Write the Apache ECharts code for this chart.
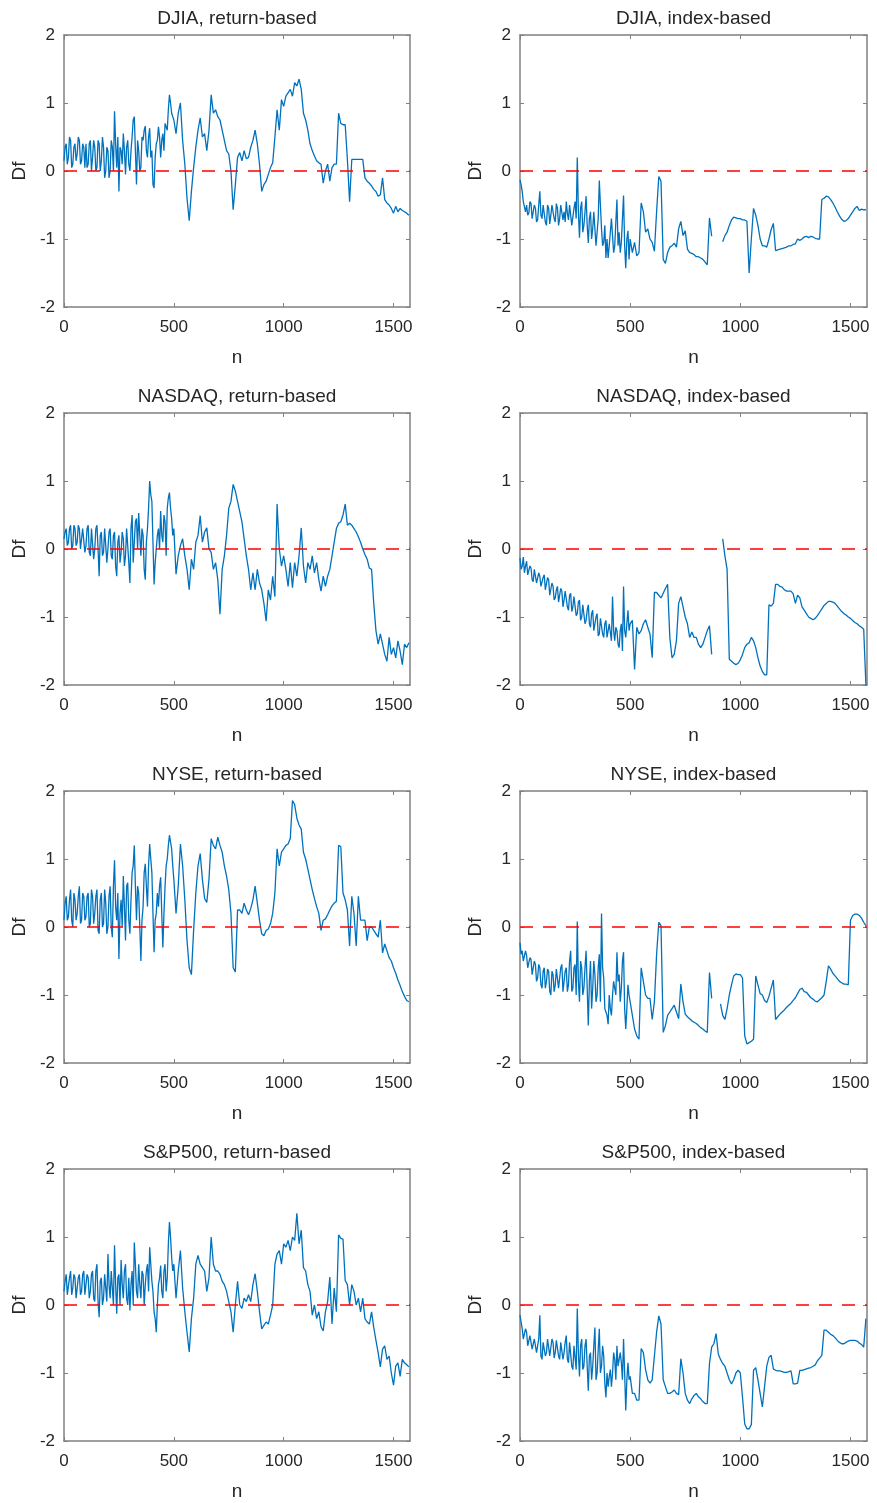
<!DOCTYPE html>
<html>
<head>
<meta charset="utf-8">
<script src="https://cdn.jsdelivr.net/npm/echarts@6/dist/echarts.min.js"></script>
<style>html,body{margin:0;padding:0;background:#fff}#c{width:877px;height:1503px}</style>
</head>
<body>
<div id="c"></div>
<script>
// coarse sample positions n (every 10)
const nSamples = [0,10,20,30,40,50,60,70,80,90,100,110,120,130,140,150,160,170,180,190,200,210,220,230,240,250,260,270,280,290,300,310,320,330,340,350,360,370,380,390,400,410,420,430,440,450,460,470,480,490,500,510,520,530,540,550,560,570,580,590,600,610,620,630,640,650,660,670,680,690,700,710,720,730,740,750,760,770,780,790,800,810,820,830,840,850,860,870,880,890,900,910,920,930,940,950,960,970,980,990,1000,1010,1020,1030,1040,1050,1060,1070,1080,1090,1100,1110,1120,1130,1140,1150,1160,1170,1180,1190,1200,1210,1220,1230,1240,1250,1260,1270,1280,1290,1300,1310,1320,1330,1340,1350,1360,1370,1380,1390,1400,1410,1420,1430,1440,1450,1460,1470,1480,1490,1500,1510,1520,1530,1540,1550,1560,1570];
// extra positions in the noisy early part
const nFine = [5,15,25,35,45,55,65,75,85,95,105,115,125,135,145,155,165,175,185,195,205,215,225,235,245,255,265,275,285,295,305,315,325,335,345,355,365,375,385,395,405,415,425,435,445,455,465,475,485,495];
const xTicks = [0, 500, 1000, 1500];
const titles = ['DJIA, return-based','DJIA, index-based','NASDAQ, return-based','NASDAQ, index-based','NYSE, return-based','NYSE, index-based','S&P500, return-based','S&P500, index-based'];

const djiaReturn = [0.15,0.4,0.2,0.45,0.1,0.4,0.25,0.45,0.15,0.35, 0.4,0.1,0.45,0.2,0.35,0.05,0.4,0.15,0.35,0.0, 0.3,0.0,0.35,0.88,0.05,-0.3,0.3,0.55,-0.05,0.45, 0.0,0.5,0.8,-0.2,0.3,0.05,0.45,0.66,0.2,0.63, 0.3,-0.25,0.4,0.65,0.2,0.55,0.7,0.6,1.12,0.85, 0.75,0.55,0.85,1.0,0.45,0.1,-0.4,-0.73,-0.3,0.05, 0.35,0.6,0.78,0.5,0.55,0.3,0.6,1.12,0.85,0.9, 0.8,0.75,0.6,0.45,0.3,0.25,0.0,-0.57,-0.2,0.2, 0.27,0.15,0.3,0.18,0.2,0.35,0.45,0.6,0.4,0.1, -0.3,-0.2,-0.15,-0.05,0.05,0.12,0.5,0.9,0.6,1.05, 0.95,1.1,1.15,1.2,1.1,1.3,1.25,1.35,1.2,0.85, 0.75,0.6,0.4,0.3,0.22,0.15,0.12,0.1,-0.18,0.0, 0.1,-0.15,0.05,0.1,0.1,0.85,0.7,0.68,0.68,0.17, -0.45,0.17,0.17,0.17,0.17,0.17,0.17,-0.1,-0.15,-0.18, -0.22,-0.27,-0.3,-0.37,-0.35,-0.1,-0.42,-0.47,-0.5,-0.55, -0.62,-0.52,-0.6,-0.55,-0.58,-0.6,-0.62,-0.65];
const djiaReturnFine = [0.35,0.1,0.5,0.05,0.35,0.15,0.5,0.1,0.4,0.05, 0.05,0.4,0.0,0.45,0.0,0.45,0.0,0.5,-0.1,0.35, -0.1,0.45,0.0,0.4,0.5,0.35,0.1,0.3,0.35,0.1, 0.3,0.75,0.3,0.45,0.0,0.5,0.6,0.3,0.5,0.2, -0.2,0.2,0.45,0.5,0.45,0.3,0.65,0.9,1.0,0.8];
const djiaIndex = [-0.13,-0.3,-0.45,-0.5,-0.62,-0.48,-0.68,-0.55,-0.72,-0.3, -0.7,-0.5,-0.8,-0.55,-0.65,-0.5,-0.75,-0.55,-0.7,-0.5, -0.6,-0.45,-0.72,-0.5,-0.78,-0.45,0.2,-0.98,-0.45,-0.8, -0.37,-1.06,-0.6,-0.85,-0.62,-0.9,-0.14,-0.85,-1.05,-1.28, -1.28,-0.9,-0.95,-1.1,-0.42,-0.9,-1.05,-0.36,-1.43,-0.88, -1.0,-1.2,-1.05,-1.25,-1.2,-0.47,-0.6,-0.9,-0.85,-1.0, -1.05,-1.18,-0.6,-0.08,-0.15,-1.3,-1.36,-1.2,-1.12,-1.1, -1.06,-1.12,-0.85,-0.74,-0.95,-0.88,-1.15,-1.2,-1.21,-1.23, -1.26,-1.26,-1.28,-1.3,-1.34,-1.38,-0.69,-0.96,null,null, null,null,-1.04,-0.95,-0.9,-0.8,-0.72,-0.68,-0.69,-0.7, -0.7,-0.72,-0.72,-0.74,-1.5,-1.0,-0.55,-0.65,-0.8,-1.0, -1.1,-1.1,-1.12,-1.0,-0.86,-0.77,-1.17,-1.16,-1.15,-1.14, -1.13,-1.12,-1.1,-1.1,-1.08,-1.07,-1.0,-1.02,-1.0,-0.97, -0.96,-0.98,-0.96,-0.97,-0.99,-1.0,-1.0,-0.42,-0.4,-0.37, -0.38,-0.42,-0.47,-0.53,-0.6,-0.66,-0.71,-0.74,-0.73,-0.7, -0.65,-0.6,-0.55,-0.52,-0.58,-0.56,-0.57,-0.57];
const djiaIndexFine = [-0.2,-0.45,-0.6,-0.65,-0.45,-0.7,-0.5,-0.75,-0.5,-0.65, -0.5,-0.75,-0.5,-0.78,-0.5,-0.7,-0.48,-0.8,-0.5,-0.72, -0.75,-0.62,-0.5,-0.8,-0.55,-0.7,-0.6,-0.55,-0.9,-0.6, -0.8,-0.7,-1.0,-0.6,-1.1,-0.7,-0.5,-1.1,-0.8,-1.0, -1.1,-0.7,-1.2,-0.75,-1.1,-1.2,-0.7,-1.1,-1.0,-1.3];
const nasdaqReturn = [0.15,0.3,0.1,0.35,0.05,0.3,0.1,0.3,0.0,0.3, 0.05,0.35,-0.1,0.3,0.0,0.35,-0.4,0.25,-0.05,0.3, 0.0,0.3,-0.15,0.25,-0.4,0.2,-0.05,0.15,-0.1,0.05, -0.5,0.5,0.1,0.45,0.53,-0.1,0.2,-0.45,0.3,1.0, 0.7,-0.52,0.0,0.3,0.56,0.1,0.4,0.6,0.83,0.45, 0.3,-0.37,-0.1,0.05,0.15,-0.1,-0.3,-0.6,-0.15,-0.3, 0.1,0.2,0.49,0.1,0.25,0.31,0.0,-0.05,-0.3,-0.2, -0.45,-0.96,-0.3,-0.1,0.2,0.6,0.7,0.95,0.85,0.7, 0.55,0.4,0.15,-0.1,-0.3,-0.6,-0.35,-0.6,-0.3,-0.5, -0.6,-0.8,-1.06,-0.6,-0.75,-0.4,-0.7,0.66,0.0,-0.25, -0.1,-0.3,-0.55,-0.2,-0.57,-0.2,-0.4,-0.1,0.31,-0.25, -0.5,-0.2,-0.3,-0.1,-0.35,-0.2,-0.45,-0.62,-0.4,-0.55, -0.4,-0.3,-0.1,0.1,0.3,0.38,0.4,0.5,0.66,0.35, 0.38,0.35,0.3,0.25,0.18,0.1,0.0,-0.08,-0.15,-0.28, -0.3,-0.8,-1.2,-1.4,-1.25,-1.4,-1.55,-1.65,-1.3,-1.55, -1.45,-1.6,-1.35,-1.5,-1.7,-1.4,-1.45,-1.38];
const nasdaqReturnFine = [0.25,0.05,0.3,0.0,0.35,0.05,0.35,0.0,0.3,-0.05, 0.3,-0.05,0.3,-0.15,0.3,0.0,0.2,-0.1,0.3,-0.2, 0.25,-0.1,0.2,-0.25,0.1,-0.2,0.25,-0.25,0.3,-0.2, 0.3,-0.2,0.4,0.0,0.2,0.3,-0.3,0.1,0.6,0.8, 0.1,-0.2,0.2,0.0,0.2,0.5,-0.1,0.75,0.6,0.2];
const nasdaqIndex = [-0.13,-0.25,-0.35,-0.18,-0.4,-0.28,-0.48,-0.32,-0.52,-0.4, -0.55,-0.38,-0.62,-0.45,-0.7,-0.55,-0.72,-0.55,-0.8,-0.62, -0.75,-0.6,-0.9,-0.65,-0.85,-0.7,-0.95,-0.75,-1.0,-0.8, -1.05,-0.82,-1.15,-0.9,-1.2,-0.95,-1.25,-1.0,-1.3,-1.05, -1.3,-1.1,-0.7,-1.35,-1.2,-1.45,-1.1,-0.55,-1.3,-0.9, -1.1,-1.05,-1.77,-1.15,-1.25,-1.2,-1.1,-1.04,-1.15,-1.25, -1.6,-0.64,-0.64,-0.68,-0.72,-0.65,-0.58,-0.52,-1.3,-1.6, -1.55,-1.35,-0.8,-0.7,-0.85,-1.0,-1.1,-1.3,-1.22,-1.3, -1.3,-1.4,-1.45,-1.4,-1.3,-1.2,-1.13,-1.55,null,null, null,null,0.15,-0.1,-0.3,-1.62,-1.65,-1.68,-1.7,-1.68, -1.63,-1.55,-1.45,-1.4,-1.38,-1.3,-1.35,-1.45,-1.6,-1.72, -1.8,-1.85,-1.85,-0.82,-0.84,-0.8,-0.52,-0.52,-0.55,-0.56, -0.6,-0.62,-0.62,-0.62,-0.66,-0.8,-0.68,-0.72,-0.85,-0.9, -0.95,-1.0,-1.02,-1.04,-1.02,-0.98,-0.93,-0.88,-0.83,-0.8, -0.77,-0.77,-0.78,-0.8,-0.84,-0.88,-0.92,-0.95,-0.97,-1.0, -1.02,-1.05,-1.08,-1.1,-1.13,-1.15,-1.18,-2.0];
const nasdaqIndexFine = [-0.3,-0.12,-0.25,-0.38,-0.25,-0.45,-0.3,-0.5,-0.35,-0.55, -0.42,-0.6,-0.42,-0.68,-0.5,-0.75,-0.6,-0.78,-0.58,-0.85, -0.62,-0.85,-0.68,-0.92,-0.7,-0.98,-0.78,-1.05,-0.82,-1.1, -0.9,-1.1,-0.95,-1.2,-1.0,-1.28,-1.02,-1.25,-1.1,-1.3, -1.1,-1.35,-1.2,-1.15,-1.4,-1.2,-1.5,-1.2,-1.1,-1.2];
const nyseReturn = [0.1,0.45,0.15,0.55,0.0,0.4,0.2,0.6,0.1,0.45, 0.15,0.5,0.05,0.45,0.2,0.55,-0.1,0.5,0.05,0.35, 0.0,0.6,-0.15,0.98,0.1,-0.47,0.4,0.75,-0.2,0.65, -0.1,0.8,1.2,0.1,0.5,-0.5,0.3,0.93,0.3,1.22, 0.8,-0.37,0.2,0.3,0.73,-0.3,0.6,1.0,1.35,1.15, 0.7,0.2,0.6,1.22,0.9,0.4,-0.2,-0.6,-0.7,-0.05, 0.5,0.9,1.08,0.7,0.42,0.36,0.7,1.3,1.2,1.15, 1.32,1.2,1.1,0.9,0.75,0.55,0.2,-0.6,-0.66,0.25, 0.25,0.2,0.35,0.25,0.18,0.27,0.4,0.6,0.35,0.1, -0.1,-0.13,-0.05,-0.03,0.05,0.2,0.5,1.15,0.9,1.1, 1.15,1.2,1.22,1.3,1.86,1.8,1.6,1.5,1.44,1.1, 1.0,0.85,0.7,0.55,0.42,0.3,0.2,-0.05,0.1,0.12, 0.18,0.25,0.31,0.35,0.38,1.2,1.18,0.5,0.4,0.25, -0.28,0.45,0.2,-0.28,0.45,0.1,0.1,0.1,-0.2,0.0, 0.0,-0.05,-0.1,-0.15,0.1,-0.38,-0.25,-0.35,-0.45,-0.5, -0.6,-0.68,-0.78,-0.86,-0.95,-1.02,-1.08,-1.1];
const nyseReturnFine = [0.35,0.1,0.4,0.1,0.5,0.1,0.45,0.05,0.5,0.1, 0.45,0.0,0.55,0.05,0.45,-0.05,0.4,0.0,0.55,-0.1, 0.45,0.0,0.6,0.3,0.5,0.2,0.0,0.3,0.6,0.1, 0.4,0.9,0.6,0.6,0.0,0.1,0.8,0.6,0.9,1.0, 0.2,0.1,0.5,0.6,0.2,0.2,0.9,1.2,1.25,0.9];
const nyseIndex = [-0.23,-0.35,-0.5,-0.42,-0.6,-0.48,-0.7,-0.55,-0.75,-0.6, -0.9,-0.6,-0.8,-0.65,-1.0,-0.7,-0.85,-0.6,-0.9,-0.55, -0.95,-0.6,-0.85,-0.35,-0.9,-0.55,0.08,-1.1,-0.6,-0.9, -0.35,-1.45,-0.5,-0.9,-0.7,-1.0,-0.4,0.2,-0.75,-1.25, -1.43,-1.2,-1.0,-0.8,-0.37,-0.7,-0.9,-0.37,-1.5,-0.85, -1.1,-1.3,-1.5,-1.6,-1.65,-0.6,-0.8,-1.0,-1.05,-1.05, -1.36,-1.1,-0.4,0.07,0.02,-1.55,-1.45,-1.3,-1.25,-1.2, -1.15,-1.25,-1.35,-0.84,-1.1,-1.28,-1.32,-1.35,-1.38,-1.4, -1.42,-1.45,-1.48,-1.5,-1.53,-1.55,-0.67,-1.05,null,null, null,-1.13,-1.3,-1.36,-1.2,-1.0,-0.85,-0.72,-0.69,-0.7, -0.7,-0.75,-1.6,-1.72,-1.7,-1.68,-1.65,-0.72,-0.85,-0.98, -1.0,-1.08,-1.11,-1.02,-0.9,-0.78,-1.36,-1.32,-1.28,-1.25, -1.22,-1.18,-1.15,-1.12,-1.08,-1.04,-0.98,-0.92,-0.9,-0.95, -0.96,-1.0,-1.04,-1.06,-1.09,-1.1,-1.07,-1.04,-1.0,-0.8, -0.57,-0.62,-0.68,-0.72,-0.76,-0.8,-0.82,-0.84,-0.84,-0.85, 0.1,0.17,0.19,0.19,0.17,0.13,0.07,0.02];
const nyseIndexFine = [-0.4,-0.5,-0.35,-0.6,-0.45,-0.7,-0.5,-0.8,-0.55,-0.85, -0.65,-0.9,-0.62,-0.95,-0.65,-0.95,-0.62,-0.9,-0.6,-0.95, -0.65,-0.95,-0.5,-0.95,-0.6,-1.0,-0.8,-0.5,-1.0,-0.6, -0.9,-0.8,-1.2,-0.5,-1.1,-0.6,-1.1,-0.6,-1.2,-1.3, -1.0,-1.3,-0.8,-1.0,-0.8,-1.1,-0.5,-1.2,-1.2,-1.0];
const spReturn = [0.2,0.45,0.15,0.5,0.25,0.4,0.1,0.45,0.2,0.5, 0.15,0.4,0.2,0.5,0.05,0.6,-0.18,0.4,0.1,0.45, 0.75,0.1,0.5,0.88,-0.13,0.45,0.66,0.1,0.6,0.0, -0.08,0.5,0.92,0.2,0.6,0.1,0.45,0.3,0.6,0.85, 0.35,-0.1,-0.4,0.3,0.58,0.1,0.6,0.4,1.22,0.7, 0.6,0.1,0.5,0.8,0.25,-0.1,-0.4,-0.69,-0.2,0.1, 0.6,0.73,0.6,0.55,0.5,0.2,0.4,1.0,0.6,0.5, 0.5,0.45,0.35,0.3,0.2,0.05,-0.1,-0.4,0.0,0.35, 0.0,-0.05,0.1,0.05,0.15,0.05,0.3,0.46,0.2,-0.1, -0.35,-0.3,-0.25,-0.28,-0.15,0.0,0.6,0.75,0.8,0.6, 0.9,0.85,0.95,0.8,1.0,0.95,1.35,0.9,1.1,0.55, 0.5,0.3,0.2,-0.15,0.0,-0.2,-0.1,-0.32,-0.38,-0.1, 0.05,0.41,-0.28,0.25,-0.1,1.03,0.98,0.97,0.36,0.3, 0.0,0.3,0.2,0.0,0.1,-0.1,0.1,-0.2,-0.25,-0.28, -0.1,-0.33,-0.52,-0.7,-0.91,-0.65,-0.6,-0.8,-0.75,-1.0, -1.18,-0.9,-0.85,-1.05,-0.8,-0.85,-0.88,-0.91];
const spReturnFine = [0.35,0.15,0.4,0.15,0.45,0.1,0.4,0.15,0.45,0.15, 0.45,0.1,0.45,0.1,0.5,0.05,0.35,0.0,0.45,0.05, 0.3,0.5,0.0,0.3,0.4,0.0,0.3,0.5,0.1,0.4, 0.3,0.0,0.6,0.1,0.3,0.5,0.0,0.5,0.2,0.6, 0.2,-0.2,0.0,0.4,0.2,0.5,0.2,0.9,1.0,0.5];
const spIndex = [-0.15,-0.35,-0.5,-0.4,-0.6,-0.45,-0.65,-0.5,-0.7,-0.15, -0.8,-0.55,-0.7,-0.5,-0.75,-0.55,-0.7,-0.5,-0.8,-0.55, -0.7,-0.45,-0.85,-0.55,-0.95,-0.6,-0.05,-1.05,-0.5,-0.9, -0.5,-1.26,-0.7,-0.9,-0.33,-1.0,-0.35,-0.9,-0.75,-1.36, -1.2,-0.95,-1.0,-0.8,-0.6,-0.9,-0.85,-0.5,-1.55,-0.85, -1.05,-1.3,-1.3,-1.4,-1.4,-0.64,-0.7,-0.95,-1.1,-1.15, -1.1,-0.75,-0.4,-0.16,-0.28,-1.1,-1.2,-1.3,-1.3,-1.28, -1.25,-1.3,-1.32,-0.79,-1.0,-1.3,-1.4,-1.45,-1.38,-1.33, -1.3,-1.35,-1.38,-1.42,-1.45,-1.45,-0.86,-0.62,-0.57,-0.42, -0.72,-0.8,-0.86,-0.9,-1.0,-1.1,-1.16,-1.1,-1.0,-0.96, -1.0,-1.36,-1.75,-1.82,-1.82,-1.76,-0.96,-0.92,-1.1,-1.3, -1.5,-1.2,-0.9,-0.77,-0.74,-0.94,-0.96,-0.97,-0.97,-0.98, -0.99,-0.99,-0.98,-0.97,-1.16,-1.16,-1.15,-0.96,-0.96,-0.95, -0.94,-0.93,-0.92,-0.9,-0.88,-0.82,-0.78,-0.74,-0.37,-0.37, -0.4,-0.43,-0.45,-0.48,-0.52,-0.55,-0.57,-0.57,-0.55,-0.53, -0.52,-0.52,-0.52,-0.53,-0.56,-0.58,-0.62,-0.2];
const spIndexFine = [-0.25,-0.5,-0.35,-0.6,-0.45,-0.65,-0.5,-0.7,-0.5,-0.75, -0.55,-0.75,-0.5,-0.75,-0.5,-0.78,-0.52,-0.75,-0.55,-0.8, -0.55,-0.8,-0.55,-0.9,-0.6,-0.95,-0.7,-0.6,-0.95,-0.6, -0.9,-0.75,-1.1,-0.6,-1.1,-0.65,-1.0,-0.6,-1.15,-1.0, -1.05,-1.2,-0.7,-1.1,-0.9,-0.7,-1.1,-1.0,-1.1,-1.1];

const seriesValues = [djiaReturn, djiaIndex, nasdaqReturn, nasdaqIndex, nyseReturn, nyseIndex, spReturn, spIndex];
const seriesFine = [djiaReturnFine, djiaIndexFine, nasdaqReturnFine, nasdaqIndexFine, nyseReturnFine, nyseIndexFine, spReturnFine, spIndexFine];

const FONT = "'Liberation Sans', Arial, Helvetica, sans-serif";
const FRAME = '#808080';
const TXT = '#262626';
const colLeft = [64, 520];
const colWidth = [346, 347];
const rowTop = [35, 413, 791, 1169];
const gridH = 272;

function buildData(vals, fine) {
  const pts = nSamples.map((n, k) => [n, vals[k] === null ? '-' : vals[k]]);
  nFine.forEach((n, k) => pts.push([n, fine[k]]));
  pts.sort((a, b) => a[0] - b[0]);
  return pts;
}

const grids = [], xAxes = [], yAxes = [], series = [], graphics = [];
const xTop = [], yRight = [];
for (let i = 0; i < 8; i++) {
  const r = Math.floor(i / 2), c = i % 2;
  const left = colLeft[c], top = rowTop[r], w = colWidth[c];
  grids.push({left: left, top: top, width: w, height: gridH, containLabel: false});
  const axisLine = {show: true, onZero: false, lineStyle: {color: FRAME, width: 1.5}};
  const tick = {show: true, inside: true, length: 4, lineStyle: {color: FRAME, width: 1}};
  xAxes.push({gridIndex: i, type: 'value', min: 0, max: 1575, position: 'bottom',
    axisLine: axisLine, splitLine: {show: false},
    axisTick: Object.assign({customValues: xTicks}, tick),
    axisLabel: {customValues: xTicks, margin: 12, fontSize: 17, color: TXT, fontFamily: FONT, formatter: v => String(v)}});
  xTop.push({gridIndex: i, type: 'value', min: 0, max: 1575, position: 'top',
    axisLine: axisLine, splitLine: {show: false},
    axisTick: Object.assign({customValues: xTicks}, tick),
    axisLabel: {show: false}});
  yAxes.push({gridIndex: i, type: 'value', min: -2, max: 2, interval: 1, position: 'left',
    axisLine: axisLine, splitLine: {show: false}, axisTick: tick,
    axisLabel: {margin: 9, fontSize: 17, color: TXT, fontFamily: FONT, formatter: v => String(v)}});
  yRight.push({gridIndex: i, type: 'value', min: -2, max: 2, interval: 1, position: 'right',
    axisLine: axisLine, splitLine: {show: false}, axisTick: tick, axisLabel: {show: false}});
  series.push({
    type: 'line', xAxisIndex: i, yAxisIndex: i, showSymbol: false, symbol: 'none',
    data: buildData(seriesValues[i], seriesFine[i]),
    lineStyle: {color: '#0072BD', width: 1.3}, itemStyle: {color: '#0072BD'},
    connectNulls: false, animation: false, silent: true,
    markLine: {silent: true, symbol: ['none', 'none'], label: {show: false}, animation: false,
      lineStyle: {color: '#ff0000', type: [13, 10], width: 1.6}, data: [{yAxis: 0}]}
  });
  const cx = left + w / 2;
  const ts = {fontSize: 19, fontFamily: FONT, fill: TXT, align: 'center', verticalAlign: 'middle', textAlign: 'center', textVerticalAlign: 'middle'};
  graphics.push({type: 'text', x: cx, y: top - 16, style: Object.assign({text: titles[i]}, ts)});
  graphics.push({type: 'text', x: cx, y: top + gridH + 51, style: Object.assign({text: 'n'}, ts)});
  graphics.push({type: 'text', x: left - 44, y: top + gridH / 2, rotation: Math.PI / 2, style: Object.assign({text: 'Df'}, ts)});
}

const chart = echarts.init(document.getElementById('c'), null, {renderer: 'canvas'});
chart.setOption({
  animation: false,
  backgroundColor: '#ffffff',
  grid: grids,
  xAxis: xAxes.concat(xTop),
  yAxis: yAxes.concat(yRight),
  series: series,
  graphic: graphics
});
</script>
</body>
</html>
